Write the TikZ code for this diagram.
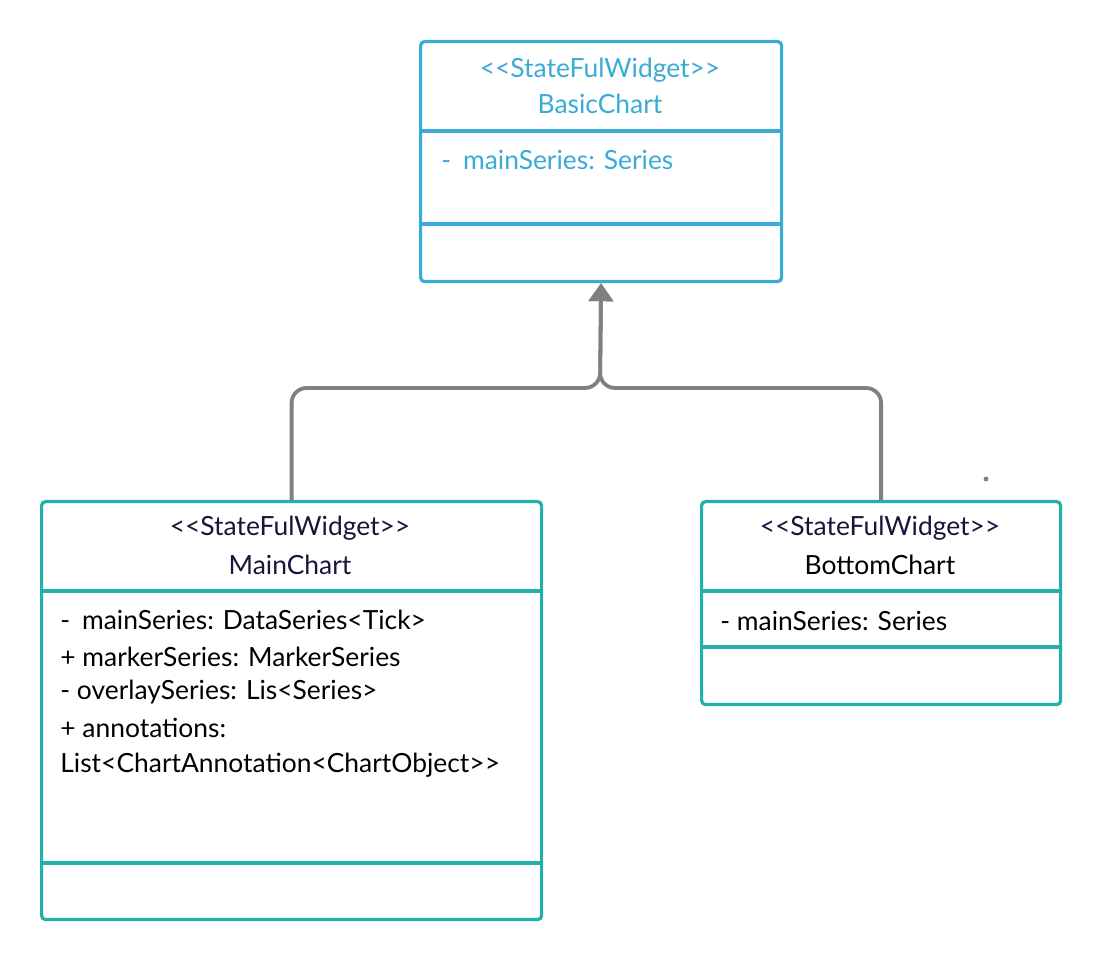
\documentclass[tikz,border=0pt]{standalone}
\usepackage{fontspec}
\setmainfont{Lato}
\usepackage{xcolor}
\usetikzlibrary{arrows.meta, positioning, calc}

\definecolor{basicblue}{RGB}{58,170,214}
\definecolor{classteal}{RGB}{36,176,170}
\definecolor{linkgray}{RGB}{128,128,128}
\definecolor{titlenavy}{RGB}{22,22,58}

\newcommand{\stereotxt}{<{}<StateFulWidget>{}>}

\tikzset{
    classbox/.style={draw, line width=1.6pt, rounded corners=2pt, anchor=north west, inner sep=0pt},
    stereo/.style={font=\fontsize{13.2}{15}\selectfont, inner sep=0pt},
    cname/.style={font=\fontsize{13.2}{15}\selectfont, inner sep=0pt},
    attr/.style={font=\fontsize{13.2}{15}\selectfont, anchor=west, inner sep=0pt},
    inherit/.style={draw=linkgray, line width=1.9pt, rounded corners=7.5pt, -{Triangle[width=12pt, length=9pt]}}
}

\begin{document}
\begin{tikzpicture}[x=0.5pt, y=-0.5pt]
    \useasboundingbox (0,0) rectangle (1100,961);

    % BasicChart
    \node[classbox, draw=basicblue, minimum width=180.5pt, minimum height=120pt] (basic) at (419,40) {};
    \draw[basicblue, line width=1.6pt] (419,131) -- (780,131);
    \draw[basicblue, line width=1.6pt] (419,224) -- (780,224);
    \node[stereo, text=basicblue] (basicst) at (600,70) {\stereotxt};
    \node[cname, text=basicblue] (basicnm) at (600,104) {BasicChart};
    \node[attr, text=basicblue] (basicat) at (441,160) {-\hspace{0.45em}mainSeries: Series};

    % MainChart
    \node[classbox, draw=classteal, minimum width=250pt, minimum height=209pt] (main) at (40,500) {};
    \draw[classteal, line width=1.6pt] (40,591) -- (540,591);
    \draw[classteal, line width=1.6pt] (40,863) -- (540,863);
    \node[stereo, text=titlenavy] (mainst) at (290,528) {\stereotxt};
    \node[cname, text=titlenavy] (mainnm) at (290,565) {MainChart};
    \node[attr] (mainat1) at (60,620) {-\hspace{0.45em}mainSeries: DataSeries<Tick>};
    \node[attr] (mainat2) at (60,657) {+ markerSeries: MarkerSeries};
    \node[attr] (mainat3) at (60,692) {- overlaySeries: Lis<Series>};
    \node[attr] (mainat4) at (60,728) {+ annotations:};
    \node[attr] (mainat5) at (60,765) {List<ChartAnnotation<ChartObject>{}>};

    % BottomChart
    \node[classbox, draw=classteal, minimum width=179.5pt, minimum height=101.5pt] (bottom) at (700,500) {};
    \draw[classteal, line width=1.6pt] (700,591) -- (1059,591);
    \draw[classteal, line width=1.6pt] (700,647) -- (1059,647);
    \node[stereo, text=titlenavy] (bottomst) at (880,528) {\stereotxt};
    \node[cname] (bottomnm) at (880,565) {BottomChart};
    \node[attr] (bottomat) at (720,621) {- mainSeries: Series};

    % inheritance
    \coordinate (fork) at (600,388);
    \draw[inherit] (main.north) |- (fork) -- (basic.south);
    \draw[inherit] (bottom.north) |- (fork) -- (basic.south);

    \fill[linkgray] (986,479) circle (1.2pt);
\end{tikzpicture}
\end{document}
